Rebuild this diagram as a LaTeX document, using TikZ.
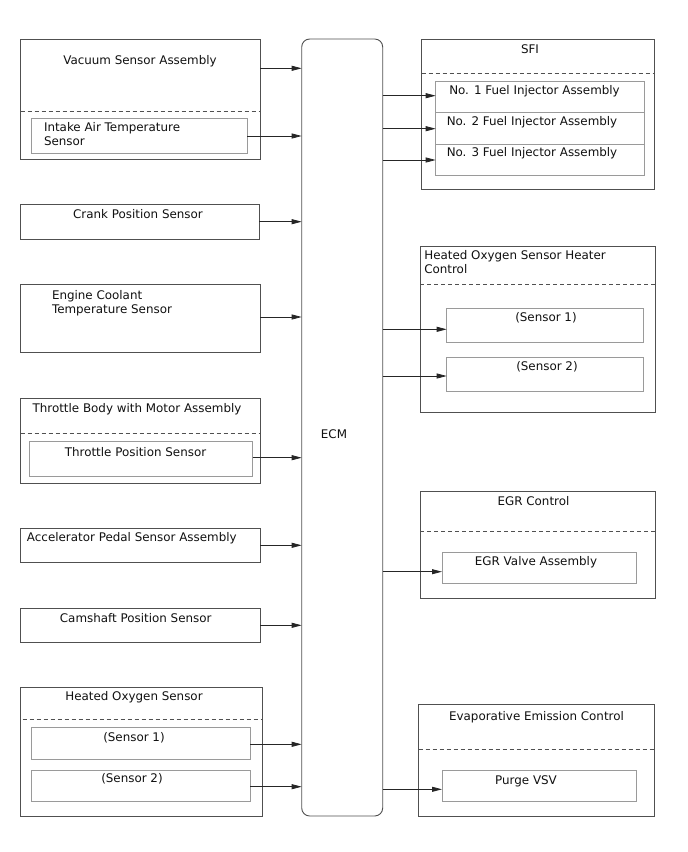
\documentclass[tikz,border=0pt]{standalone}
\usepackage{fontspec}
\setmainfont{DejaVu Sans}
\usetikzlibrary{arrows.meta}
\definecolor{outerc}{HTML}{505050}
\definecolor{innerc}{HTML}{9A9A9A}
\definecolor{txtc}{HTML}{111111}
\tikzset{
  outerbox/.style={draw=outerc, line width=0.9pt, rectangle, inner sep=0pt, outer sep=0pt, anchor=north west},
  innerbox/.style={draw=innerc, line width=0.9pt, rectangle, inner sep=0pt, outer sep=0pt, anchor=north west},
  ecmbox/.style={draw=outerc, line width=0.9pt, rectangle, rounded corners=8pt, inner sep=0pt, outer sep=0pt, anchor=north west},
  divider/.style={draw=outerc, line width=0.9pt, dash pattern=on 4pt off 3pt},
  arr/.style={draw=black!85, line width=0.8pt, -{Triangle[length=10pt,width=5pt]}},
  lbl/.style={inner sep=0pt, outer sep=0pt, text=txtc, font=\fontsize{11.9}{14}\selectfont, anchor=base},
  lbll/.style={lbl, anchor=base west}
}
\newcommand{\bx}[6]{\node[#6, minimum width={#4pt-#2pt}, minimum height={#5pt-#3pt}] (#1) at (#2,#3) {};}
\begin{document}
\begin{tikzpicture}[x=1pt,y=-1pt]
\useasboundingbox[fill=white] (0,0) rectangle (688,852);

% ECM
\bx{ecm}{301.7}{39}{382.7}{816}{ecmbox}
\node[lbl] (tecm) at (334,438.3) {ECM};

% Left column
\bx{vac}{20.7}{39}{260}{159}{outerbox}
\draw[divider] (20.7,111.3) -- (260,111.3);
\bx{iat}{31.7}{118.7}{247.3}{153.3}{innerbox}
\node[lbl] (tvac) at (140,64) {Vacuum Sensor Assembly};
\node[lbll] (tiat1) at (44,131.5) {Intake Air Temperature};
\node[lbll] (tiat2) at (44,145.5) {Sensor};

\bx{crank}{20.7}{204.3}{259.3}{239}{outerbox}
\node[lbl] (tcrank) at (138,218) {Crank Position Sensor};

\bx{ect}{20.7}{284.3}{260}{352.3}{outerbox}
\node[lbll] (tect1) at (52,299) {Engine Coolant};
\node[lbll] (tect2) at (52,313) {Temperature Sensor};

\bx{thr}{20.7}{398.3}{260}{483.3}{outerbox}
\draw[divider] (20.7,433.3) -- (260,433.3);
\bx{tps}{29.3}{441}{252.7}{476}{innerbox}
\node[lbl] (tthr) at (137,412.7) {Throttle Body with Motor Assembly};
\node[lbl] (ttps) at (135.5,456) {Throttle Position Sensor};

\bx{app}{20.7}{528.3}{260}{562.7}{outerbox}
\node[lbll] (tapp) at (27,541.7) {Accelerator Pedal Sensor Assembly};

\bx{cam}{20.7}{608.3}{260}{642.3}{outerbox}
\node[lbl] (tcam) at (135.7,622.7) {Camshaft Position Sensor};

\bx{hos}{20}{687.3}{262.3}{816}{outerbox}
\draw[divider] (22.7,719.7) -- (262.3,719.7);
\bx{hosa}{31.3}{727.7}{250}{759}{innerbox}
\bx{hosb}{31.3}{770}{250}{801.3}{innerbox}
\node[lbl] (thos) at (134,700.7) {Heated Oxygen Sensor};
\node[lbl] (thosa) at (134,741) {(Sensor 1)};
\node[lbl] (thosb) at (132,782.7) {(Sensor 2)};

% Right column
\bx{sfi}{421.7}{39}{654.3}{189.3}{outerbox}
\draw[divider] (421.7,73.3) -- (654.3,73.3);
\bx{inj1}{435.7}{81.7}{644.3}{112.7}{innerbox}
\bx{inj2}{435.7}{112.7}{644.3}{144}{innerbox}
\bx{inj3}{435.7}{144}{644.3}{175}{innerbox}
\node[lbl] (tsfi) at (530,53.3) {SFI};
\node[lbl] (tinj1) at (534.5,94.3) {No. 1 Fuel Injector Assembly};
\node[lbl] (tinj2) at (532,125.7) {No. 2 Fuel Injector Assembly};
\node[lbl] (tinj3) at (532,156.7) {No. 3 Fuel Injector Assembly};

\bx{hhc}{420}{246}{655}{412.7}{outerbox}
\draw[divider] (420,284) -- (655,284);
\bx{hhca}{446.7}{308.3}{643.7}{342.3}{innerbox}
\bx{hhcb}{446.7}{357.3}{643.7}{391.7}{innerbox}
\node[lbll] (thhc1) at (424.3,259) {Heated Oxygen Sensor Heater};
\node[lbll] (thhc2) at (424.3,273.3) {Control};
\node[lbl] (thhca) at (546,321.7) {(Sensor 1)};
\node[lbl] (thhcb) at (547,370) {(Sensor 2)};

\bx{egr}{420}{491.7}{655.3}{598.3}{outerbox}
\draw[divider] (420,531.7) -- (655.3,531.7);
\bx{egrv}{442}{552}{636}{583.7}{innerbox}
\node[lbl] (tegr) at (533.5,505) {EGR Control};
\node[lbl] (tegrv) at (536,565) {EGR Valve Assembly};

\bx{evap}{418.7}{704.3}{654}{816}{outerbox}
\draw[divider] (418.7,749) -- (654,749);
\bx{vsv}{442}{770}{636}{801.3}{innerbox}
\node[lbl] (tevap) at (536.5,720) {Evaporative Emission Control};
\node[lbl] (tvsv) at (526,784) {Purge VSV};

% Inputs to ECM
\draw[arr] (vac.east |- 0,68.3) -- (ecm.west |- 0,68.3);
\draw[arr] (iat.east |- 0,136) -- (ecm.west |- 0,136);
\draw[arr] (crank.east |- 0,221.7) -- (ecm.west |- 0,221.7);
\draw[arr] (ect.east |- 0,317) -- (ecm.west |- 0,317);
\draw[arr] (tps.east |- 0,457.7) -- (ecm.west |- 0,457.7);
\draw[arr] (app.east |- 0,545.3) -- (ecm.west |- 0,545.3);
\draw[arr] (cam.east |- 0,625.3) -- (ecm.west |- 0,625.3);
\draw[arr] (hosa.east |- 0,744.3) -- (ecm.west |- 0,744.3);
\draw[arr] (hosb.east |- 0,786.7) -- (ecm.west |- 0,786.7);

% Outputs from ECM
\draw[arr] (ecm.east |- 0,95.7) -- (inj1.west |- 0,95.7);
\draw[arr] (ecm.east |- 0,128.7) -- (inj2.west |- 0,128.7);
\draw[arr] (ecm.east |- 0,160) -- (inj3.west |- 0,160);
\draw[arr] (ecm.east |- 0,329.3) -- (hhca.west |- 0,329.3);
\draw[arr] (ecm.east |- 0,376) -- (hhcb.west |- 0,376);
\draw[arr] (ecm.east |- 0,571.7) -- (egrv.west |- 0,571.7);
\draw[arr] (ecm.east |- 0,789.3) -- (vsv.west |- 0,789.3);
\end{tikzpicture}
\end{document}
